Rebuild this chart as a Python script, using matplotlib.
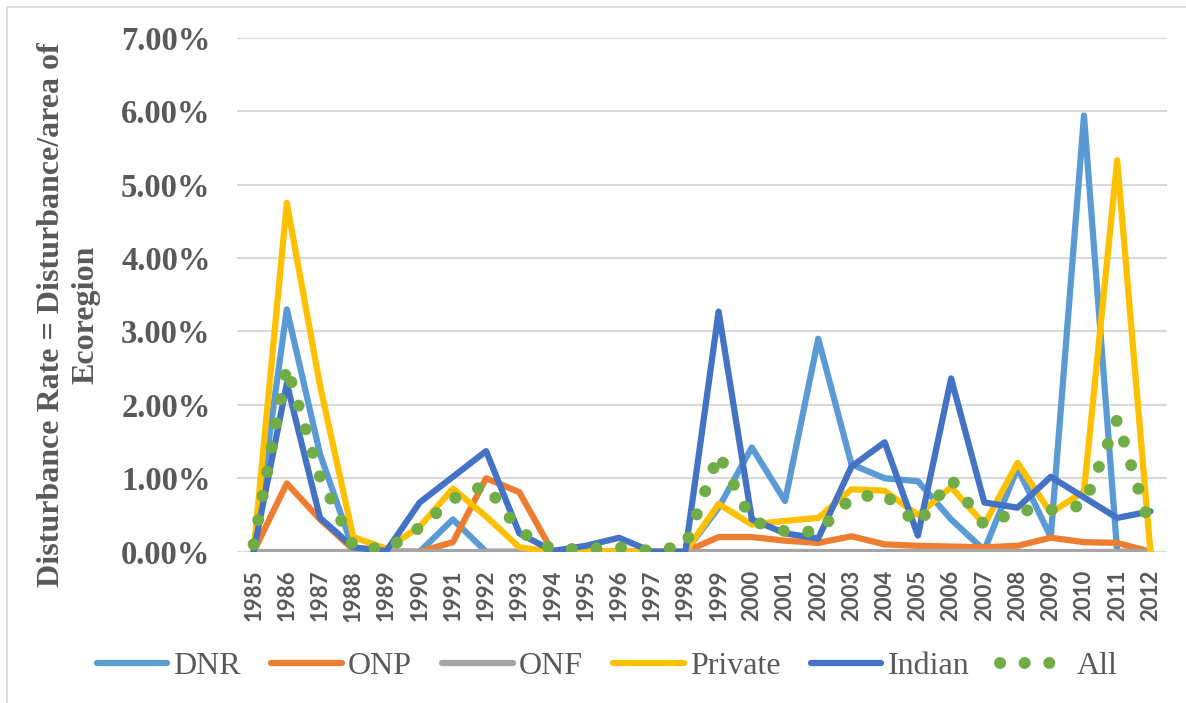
import matplotlib
matplotlib.use("Agg")
import matplotlib.pyplot as plt
from matplotlib.patches import Rectangle

# 年份
years = [str(y) for y in range(1985, 2013)]

# 各类土地的扰动率 (%)
dnr = [0, 3.30, 1.33, 0.03, 0, 0, 0.44, 0, 0, 0, 0, 0, 0, 0,
       0.60, 1.42, 0.69, 2.90, 1.19, 1.00, 0.96, 0.44, 0.02, 1.14, 0.20, 5.94, 0.0, 0.0]
onp = [0, 0.93, 0.44, 0.03, 0, 0, 0.13, 1.00, 0.81, 0, 0, 0, 0, 0,
       0.20, 0.20, 0.15, 0.12, 0.21, 0.10, 0.08, 0.07, 0.06, 0.08, 0.19, 0.13, 0.12, 0]
onf = [0] * 28
private = [0, 4.75, 2.26, 0.20, 0.04, 0.34, 0.86, 0.48, 0.06, 0.0, 0.01, 0.0, 0, 0,
           0.65, 0.37, 0.42, 0.46, 0.85, 0.83, 0.50, 0.88, 0.37, 1.21, 0.53, 0.82, 5.33, 0.0]
indian = [0, 2.29, 0.46, 0.06, 0.01, 0.67, 1.02, 1.37, 0.25, 0.01, 0.08, 0.19, 0.0, 0.0,
          3.27, 0.44, 0.25, 0.18, 1.16, 1.49, 0.22, 2.36, 0.67, 0.60, 1.02, 0.74, 0.46, 0.55]
all_ = [0.10, 2.52, 1.02, 0.08, 0.03, 0.33, 0.72, 0.91, 0.28, 0.03, 0.04, 0.06, 0.01, 0.08,
        1.33, 0.42, 0.28, 0.27, 0.74, 0.78, 0.37, 0.99, 0.36, 0.56, 0.57, 0.63, 1.80, 0.32]

series = [("DNR", dnr, "#5B9BD5"), ("ONP", onp, "#ED7D31"), ("ONF", onf, "#A5A5A5"),
          ("Private", private, "#FFC000"), ("Indian", indian, "#4472C4")]

txt = "#595959"
W, H = 1186, 703
fig = plt.figure(figsize=(W / 100, H / 100), dpi=100)
ax = fig.add_axes([237 / W, 1 - 551.7 / H, (1167 - 237) / W, (551.7 - 37.7) / H])

x = list(range(len(years)))
for name, vals, c in series:
    ax.plot(x, vals, color=c, lw=4.5, label=name, solid_capstyle="round",
            solid_joinstyle="round")
ax.plot(x, all_, color="#70AD47", lw=8.6, linestyle=(0, (0.01, 2.05)),
        dash_capstyle="round", label="All")

ax.set_xlim(-0.5, len(years) - 0.5)
ax.set_ylim(0, 7)
yt = list(range(8))
ax.set_yticks(yt)
ax.set_yticklabels(["%.2f%%" % v for v in yt], fontfamily="Liberation Serif",
                   fontweight="bold", fontsize=23.5, color=txt)
ax.set_xticks(x)
ax.set_xticklabels(years, rotation=90, fontfamily="Lato",
                   fontweight="bold", fontsize=16, color=txt)
ax.tick_params(axis="y", length=0, pad=19)
ax.tick_params(axis="x", length=0, pad=13)
ax.grid(axis="y", color="#D9D9D9", lw=1.5)
ax.set_axisbelow(True)
for s in ax.spines.values():
    s.set_visible(False)

fig.text(69 / W, 1 - 315 / H, "Disturbance Rate = Disturbance/area of\nEcoregion",
         rotation=90, ha="center", va="center", multialignment="center",
         fontfamily="Liberation Serif", fontweight="bold", fontsize=23,
         color=txt, linespacing=1.25)

leg = fig.legend(loc="center", bbox_to_anchor=(607 / W, 1 - 666 / H), ncol=6,
                 frameon=False, handlelength=2.2, handletextpad=0.2,
                 columnspacing=0.95, prop={"family": "Liberation Serif", "size": 23})
for t in leg.get_texts():
    t.set_color(txt)

# 图表外框
fig.patches.append(Rectangle((7 / W, -0.01), 1.0, 1 - 7 / H + 0.01,
                             transform=fig.transFigure, fill=False,
                             edgecolor="#D9D9D9", lw=1.2))

fig.savefig("out.png", dpi=100)
